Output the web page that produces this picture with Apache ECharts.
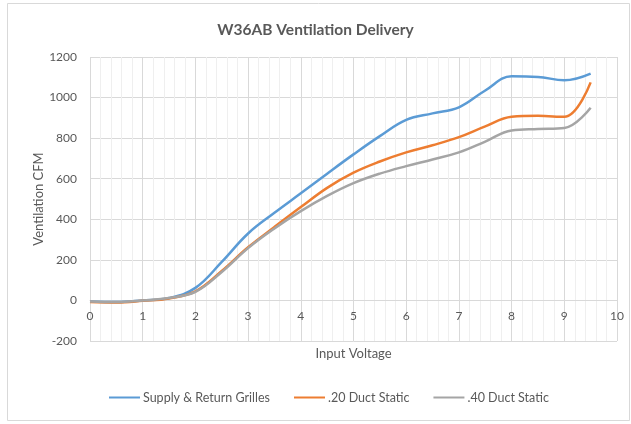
<!DOCTYPE html>
<html>
<head>
<meta charset="utf-8">
<script src="https://cdn.jsdelivr.net/npm/echarts@6/dist/echarts.min.js"></script>
<style>
  html, body { margin: 0; padding: 0; background: #fff; }
  #chart { width: 631px; height: 424px; }
</style>
</head>
<body>
<div id="chart"></div>
<script>
var voltage = [0, 0.5, 1, 1.5, 2, 2.5, 3, 3.5, 4, 4.5, 5, 5.5, 6, 6.5, 7, 7.5, 8, 8.5, 9, 9.5];
var supplyReturn = [-5, -8, 0, 12, 62, 190, 330, 432, 528, 625, 720, 810, 890, 922, 952, 1035, 1105, 1102, 1085, 1118];
var duct20 = [-8, -10, -2, 10, 45, 145, 262, 362, 460, 555, 630, 685, 730, 765, 805, 858, 905, 910, 905, 1075];
var duct40 = [-5, -8, 0, 12, 42, 140, 258, 355, 440, 515, 578, 625, 662, 695, 730, 783, 838, 845, 850, 950];
var seriesNames = ['Supply & Return Grilles', '.20 Duct Static', '.40 Duct Static'];

function pairs(ys) {
    return voltage.map(function (x, i) { return [x, ys[i]]; });
}

var chart = echarts.init(document.getElementById('chart'));
var font = 'Lato, "Open Sans", sans-serif';

var option = {
    backgroundColor: '#fff',
    textStyle: { fontFamily: font },
    color: ['#5B9BD5', '#ED7D31', '#A5A5A5'],
    graphic: [{
        type: 'rect',
        shape: { x: 7.5, y: 3.5, width: 622, height: 417 },
        style: { fill: 'none', stroke: '#D9D9D9', lineWidth: 1 },
        silent: true
    }],
    title: {
        text: 'W36AB Ventilation Delivery',
        left: 'center',
        top: 17,
        textStyle: { fontSize: 15.5, fontWeight: 'bold', color: '#595959', fontFamily: font }
    },
    legend: {
        data: seriesNames,
        bottom: 15,
        left: 104,
        itemWidth: 31,
        itemHeight: 2,
        itemGap: 24,
        icon: 'rect',
        textStyle: { fontSize: 12.5, color: '#595959', padding: [0, 0, 0, -2] }
    },
    grid: { left: 90, right: 14, top: 57, bottom: 83 },
    xAxis: {
        type: 'value',
        min: 0,
        max: 10,
        interval: 1,
        position: 'bottom',
        offset: -41,
        name: 'Input Voltage',
        nameLocation: 'middle',
        nameGap: 47,
        nameMoveOverlap: false,
        nameTextStyle: { fontSize: 13, color: '#595959' },
        axisLine: { onZero: false, lineStyle: { color: '#D9D9D9' } },
        axisTick: { show: false },
        axisLabel: { fontSize: 12, color: '#595959', margin: 10 },
        splitLine: { show: true, lineStyle: { color: '#D9D9D9' } },
        minorTick: { show: false, splitNumber: 5 },
        minorSplitLine: { show: true, lineStyle: { color: '#EFEFEF' } }
    },
    yAxis: {
        type: 'value',
        min: -200,
        max: 1200,
        interval: 200,
        name: 'Ventilation CFM',
        nameLocation: 'middle',
        nameGap: 45,
        nameMoveOverlap: false,
        nameTextStyle: { fontSize: 13, color: '#595959' },
        axisLine: { show: false },
        axisTick: { show: false },
        axisLabel: { fontSize: 12, color: '#595959', margin: 13, formatter: function (v) { return String(v); } },
        splitLine: { show: true, lineStyle: { color: '#D9D9D9' } }
    },
    series: [
        { name: seriesNames[0], type: 'line', smooth: 0.4, showSymbol: false, data: pairs(supplyReturn), lineStyle: { width: 2.5 } },
        { name: seriesNames[1], type: 'line', smooth: 0.4, showSymbol: false, data: pairs(duct20), lineStyle: { width: 2.5 } },
        { name: seriesNames[2], type: 'line', smooth: 0.4, showSymbol: false, data: pairs(duct40), lineStyle: { width: 2.5 } }
    ]
};

chart.setOption(option);
</script>
</body>
</html>
